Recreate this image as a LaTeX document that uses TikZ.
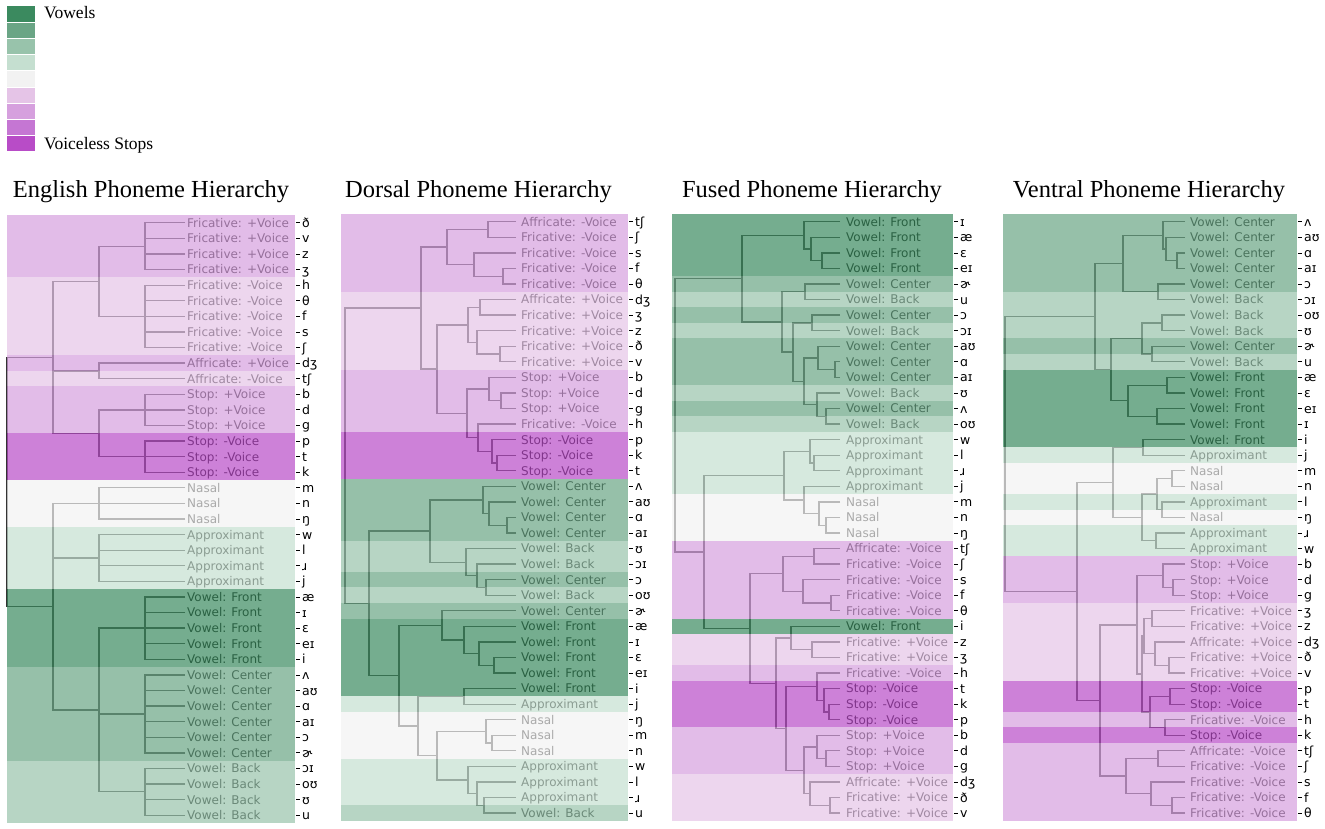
\documentclass[tikz,border=0pt]{standalone}
\usepackage{fontspec}
\setmainfont{Liberation Serif}
\newfontfamily\dvsans{DejaVu Sans}
\usetikzlibrary{calc}

\definecolor{greenA}{HTML}{3B8A5F}
\definecolor{greenB}{HTML}{6AA585}
\definecolor{greenC}{HTML}{98C3AB}
\definecolor{greenD}{HTML}{C5DFD0}
\definecolor{neutral}{HTML}{F2F2F2}
\definecolor{pinkA}{HTML}{E5C4E7}
\definecolor{pinkB}{HTML}{D6A0DE}
\definecolor{pinkC}{HTML}{C576D3}
\definecolor{pinkD}{HTML}{B84CC7}

\begin{document}
\begin{tikzpicture}[x=1pt, y=-1pt]
  \tikzstyle{link} = [draw=black!80, line width=1.3pt]
  \tikzstyle{band} = [fill opacity=0.7]
  \tikzstyle{leaflabel} = [anchor=base west, inner sep=0pt, yshift=-4.4pt, font=\dvsans\fontsize{12}{12}\selectfont]
  \tikzstyle{ticklabel} = [anchor=base west, inner sep=0pt, yshift=-4.5pt, font=\dvsans\fontsize{12.5}{12.5}\selectfont]
  \tikzstyle{tickmark} = [draw=black, line width=0.8pt]
  \tikzstyle{paneltitle} = [anchor=base, inner sep=0pt, font=\fontsize{24.5}{24.5}\selectfont]
  \tikzstyle{swatch} = [draw=white, line width=0.5pt]
  \tikzstyle{legendtext} = [anchor=base west, inner sep=0pt, font=\fontsize{17.5}{17.5}\selectfont]

  \useasboundingbox (0,0) rectangle (1325,828);

  % Legend
  \foreach \c [count=\i from 0] in {greenA, greenB, greenC, greenD, neutral, pinkA, pinkB, pinkC, pinkD}
    \path[swatch, fill=\c] (6, {5.7+16.22*\i}) rectangle ++(29, 16.22);
  \node[legendtext] (leg-top) at (44, 18.5) {Vowels};
  \node[legendtext] (leg-bot) at (44, 149) {Voiceless Stops};

  % ---------------- English panel ----------------
  \node[paneltitle] (E-title) at (151, 197) {English Phoneme Hierarchy};
  \foreach \ipa/\lab [count=\i from 0] in {ð/Fricative: +Voice, v/Fricative: +Voice, z/Fricative: +Voice, ʒ/Fricative: +Voice,
      h/Fricative: -Voice, θ/Fricative: -Voice, f/Fricative: -Voice, s/Fricative: -Voice, ʃ/Fricative: -Voice,
      dʒ/Affricate: +Voice, tʃ/Affricate: -Voice, b/Stop: +Voice, d/Stop: +Voice, g/Stop: +Voice,
      p/Stop: -Voice, t/Stop: -Voice, k/Stop: -Voice, m/Nasal, n/Nasal, ŋ/Nasal,
      w/Approximant, l/Approximant, ɹ/Approximant, j/Approximant,
      æ/Vowel: Front, ɪ/Vowel: Front, ɛ/Vowel: Front, eɪ/Vowel: Front, i/Vowel: Front,
      ʌ/Vowel: Center, aʊ/Vowel: Center, ɑ/Vowel: Center, aɪ/Vowel: Center, ɔ/Vowel: Center, ɚ/Vowel: Center,
      ɔɪ/Vowel: Back, oʊ/Vowel: Back, ʊ/Vowel: Back, u/Vowel: Back}
  {
    \pgfmathsetmacro{\yy}{215+15.59*(\i+0.5)}
    \coordinate (E\i) at (185, \yy);
    \node[leaflabel] (E-l\i) at (187, \yy) {\lab};
    \coordinate (E-k\i) at (296, \yy);
    \draw[tickmark] (E-k\i) -- ++(4, 0);
    \node[ticklabel] (E-t\i) at (302, \yy) {\ipa};
  }

  % English links
  \foreach \n/\x/\a/\b in {Efa/145/E0/E3, Efb/145/E4/E8, Esa/145/E11/E13, Esb/145/E14/E16,
      Evf/145/E24/E28, Evc/145/E29/E34, Evb/145/E35/E38,
      Efr/99/Efa/Efb, Eaf/99/E9/E10, Est/99/Esa/Esb,
      Ena/99/E17/E19, Eap/99/E20/E23, Evw/99/Evf/Evb,
      Eob/53/Efr/Est, Eso/53/Ena/Evw, Ert/7/Eob/Eso}
  {
    \coordinate (\n-m) at ($(\a)!.5!(\b)$);
    \coordinate (\n) at (\x,0 |- \n-m);
    \draw[link] (\a) -| (\n);
    \draw[link] (\b) -| (\n);
  }
  \foreach \c/\p in {E1/Efa, E2/Efa, E5/Efb, E6/Efb, E7/Efb, E12/Esa, E15/Esb,
      E25/Evf, E26/Evf, E27/Evf, E30/Evc, E31/Evc, E32/Evc, E33/Evc, E36/Evb, E37/Evb,
      E18/Ena, E21/Eap, E22/Eap, Evc/Evw, Eaf/Eob, Eap/Eso}
    \draw[link] (\c) -| (\p);

  % English bands
  \foreach \c/\a/\b in {pinkB/0/4, pinkA/4/9, pinkB/9/10, pinkA/10/11, pinkB/11/14, pinkD/14/17,
      neutral/17/20, greenD/20/24, greenA/24/29, greenB/29/35, greenC/35/39}
    \fill[band, fill=\c] (7, {215+15.59*\a}) rectangle (295, {215+15.59*\b});

  % ---------------- Dorsal panel ----------------
  \node[paneltitle] (D-title) at (478.5, 197) {Dorsal Phoneme Hierarchy};
  \foreach \ipa/\lab [count=\i from 0] in {tʃ/Affricate: -Voice, ʃ/Fricative: -Voice, s/Fricative: -Voice, f/Fricative: -Voice, θ/Fricative: -Voice,
      dʒ/Affricate: +Voice, ʒ/Fricative: +Voice, z/Fricative: +Voice, ð/Fricative: +Voice, v/Fricative: +Voice,
      b/Stop: +Voice, d/Stop: +Voice, g/Stop: +Voice, h/Fricative: -Voice, p/Stop: -Voice, k/Stop: -Voice, t/Stop: -Voice,
      ʌ/Vowel: Center, aʊ/Vowel: Center, ɑ/Vowel: Center, aɪ/Vowel: Center, ʊ/Vowel: Back, ɔɪ/Vowel: Back,
      ɔ/Vowel: Center, oʊ/Vowel: Back, ɚ/Vowel: Center,
      æ/Vowel: Front, ɪ/Vowel: Front, ɛ/Vowel: Front, eɪ/Vowel: Front, i/Vowel: Front,
      j/Approximant, ŋ/Nasal, m/Nasal, n/Nasal, w/Approximant, l/Approximant, ɹ/Approximant, u/Vowel: Back}
  {
    \pgfmathsetmacro{\yy}{214+15.56*(\i+0.5)}
    \coordinate (D\i) at (516, \yy);
    \node[leaflabel] (D-l\i) at (521, \yy) {\lab};
    \coordinate (D-k\i) at (629, \yy);
    \draw[tickmark] (D-k\i) -- ++(4, 0);
    \node[ticklabel] (D-t\i) at (635, \yy) {\ipa};
  }

  % Dorsal links
  \foreach \n/\x/\a/\b in {Da/488/D0/D1, Db/503/D3/D4, Dc/474/D2/Db, Dd/447/Da/Dc,
      De/480/D5/D6, Df/500/D8/D9, Dg/477/D7/Df, Dh/468/De/Dg,
      Di/501/D11/D12, Dj/489/D10/Di, Dk/497/D15/D16, Dl/492/D14/Dk, Dm/478/D13/Dl,
      Dn/467/Dj/Dm, Do/437/Dh/Dn, Dp/421/Dd/Do,
      Dq/507/D19/D20, Dr/489/D18/Dq, Ds/483/D17/Dr,
      Dt/486/D23/D24, Du/477/D22/Dt, Dv/466/D21/Du, Dw/430/Ds/Dv,
      Dx/494/D28/D29, Dy/479/D27/Dx, Dz/464/D26/Dy, DA/442/D25/Dz,
      DB/464/D30/D31, DC/492/D33/D34, DD/486/D32/DC,
      DE/484/D37/D38, DF/477/D36/DE, DG/468/D35/DF, DH/437/DD/DG,
      DI/418/DB/DH, DJ/399/DA/DI, DK/369/Dw/DJ, Drt/345/Dp/DK}
  {
    \coordinate (\n-m) at ($(\a)!.5!(\b)$);
    \coordinate (\n) at (\x,0 |- \n-m);
    \draw[link] (\a) -| (\n);
    \draw[link] (\b) -| (\n);
  }

  % Dorsal bands
  \foreach \c/\a/\b in {pinkB/0/5, pinkA/5/10, pinkB/10/14, pinkD/14/17, greenB/17/21, greenC/21/23,
      greenB/23/24, greenC/24/25, greenB/25/26, greenA/26/31, greenD/31/32, neutral/32/35,
      greenD/35/38, greenC/38/39}
    \fill[band, fill=\c] (341, {214+15.56*\a}) rectangle (628, {214+15.56*\b});

  % ---------------- Fused panel ----------------
  \node[paneltitle] (F-title) at (812, 197) {Fused Phoneme Hierarchy};
  \foreach \ipa/\lab [count=\i from 0] in {ɪ/Vowel: Front, æ/Vowel: Front, ɛ/Vowel: Front, eɪ/Vowel: Front,
      ɚ/Vowel: Center, u/Vowel: Back, ɔ/Vowel: Center, ɔɪ/Vowel: Back, aʊ/Vowel: Center, ɑ/Vowel: Center,
      aɪ/Vowel: Center, ʊ/Vowel: Back, ʌ/Vowel: Center, oʊ/Vowel: Back,
      w/Approximant, l/Approximant, ɹ/Approximant, j/Approximant, m/Nasal, n/Nasal, ŋ/Nasal,
      tʃ/Affricate: -Voice, ʃ/Fricative: -Voice, s/Fricative: -Voice, f/Fricative: -Voice, θ/Fricative: -Voice,
      i/Vowel: Front, z/Fricative: +Voice, ʒ/Fricative: +Voice, h/Fricative: -Voice,
      t/Stop: -Voice, k/Stop: -Voice, p/Stop: -Voice, b/Stop: +Voice, d/Stop: +Voice, g/Stop: +Voice,
      dʒ/Affricate: +Voice, ð/Fricative: +Voice, v/Fricative: +Voice}
  {
    \pgfmathsetmacro{\yy}{214+15.56*(\i+0.5)}
    \coordinate (F\i) at (840, \yy);
    \node[leaflabel] (F-l\i) at (846, \yy) {\lab};
    \coordinate (F-k\i) at (954, \yy);
    \draw[tickmark] (F-k\i) -- ++(4, 0);
    \node[ticklabel] (F-t\i) at (960, \yy) {\ipa};
  }

  % Fused links
  \foreach \n/\x/\a/\b in {Fa/822/F2/F3, Fb/811/F1/Fa, Fc/804/F0/Fb,
      Fd/805/F4/F5, Fe/812/F6/F7, Ff/835/F9/F10, Fg/818/F8/Ff,
      Fh/826/F12/F13, Fi/817/F11/Fh, Fj/804/Fg/Fi, Fk/793/Fe/Fj, Fl/782/Fd/Fk, Fm/742/Fc/Fl,
      Fn/814/F15/F16, Fo/810/F14/Fn, Fp/826/F19/F20, Fq/819/F18/Fp, Fr/804/F17/Fq, Fs/784/Fo/Fr,
      Ft/814/F21/F22, Fu/831/F24/F25, Fv/803/F23/Fu, Fw/783/Ft/Fv,
      Fx/812/F27/F28, Fy/791/F26/Fx, Fz/829/F31/F32, FA/824/F30/Fz, FB/817/F29/FA,
      FC/826/F34/F35, FD/817/F33/FC, FE/830/F37/F38, FF/810/F36/FE, FG/804/FD/FF,
      FH/786/FB/FG, FI/776/Fy/FH, FJ/750/Fw/FI, FK/704/Fs/FJ, Frt/675/Fm/FK}
  {
    \coordinate (\n-m) at ($(\a)!.5!(\b)$);
    \coordinate (\n) at (\x,0 |- \n-m);
    \draw[link] (\a) -| (\n);
    \draw[link] (\b) -| (\n);
  }

  % Fused bands
  \foreach \c/\a/\b in {greenA/0/4, greenB/4/5, greenC/5/6, greenB/6/7, greenC/7/8, greenB/8/11,
      greenC/11/12, greenB/12/13, greenC/13/14, greenD/14/18, neutral/18/21, pinkB/21/26,
      greenA/26/27, pinkA/27/29, pinkB/29/30, pinkD/30/33, pinkB/33/36, pinkA/36/39}
    \fill[band, fill=\c] (672, {214+15.56*\a}) rectangle (953, {214+15.56*\b});

  % ---------------- Ventral panel ----------------
  \node[paneltitle] (V-title) at (1149, 197) {Ventral Phoneme Hierarchy};
  \foreach \ipa/\lab [count=\i from 0] in {ʌ/Vowel: Center, aʊ/Vowel: Center, ɑ/Vowel: Center, aɪ/Vowel: Center,
      ɔ/Vowel: Center, ɔɪ/Vowel: Back, oʊ/Vowel: Back, ʊ/Vowel: Back, ɚ/Vowel: Center, u/Vowel: Back,
      æ/Vowel: Front, ɛ/Vowel: Front, eɪ/Vowel: Front, ɪ/Vowel: Front, i/Vowel: Front,
      j/Approximant, m/Nasal, n/Nasal, l/Approximant, ŋ/Nasal, ɹ/Approximant, w/Approximant,
      b/Stop: +Voice, d/Stop: +Voice, g/Stop: +Voice,
      ʒ/Fricative: +Voice, z/Fricative: +Voice, dʒ/Affricate: +Voice, ð/Fricative: +Voice, v/Fricative: +Voice,
      p/Stop: -Voice, t/Stop: -Voice, h/Fricative: -Voice, k/Stop: -Voice,
      tʃ/Affricate: -Voice, ʃ/Fricative: -Voice, s/Fricative: -Voice, f/Fricative: -Voice, θ/Fricative: -Voice}
  {
    \pgfmathsetmacro{\yy}{214+15.56*(\i+0.5)}
    \coordinate (V\i) at (1185, \yy);
    \node[leaflabel] (V-l\i) at (1190, \yy) {\lab};
    \coordinate (V-k\i) at (1298, \yy);
    \draw[tickmark] (V-k\i) -- ++(4, 0);
    \node[ticklabel] (V-t\i) at (1304, \yy) {\ipa};
  }

  % Ventral links
  \foreach \n/\x/\a/\b in {Va/1177/V2/V3, Vb/1166/V1/Va, Vc/1163/V0/Vb, Vd/1158/V4/V5, Ve/1123/Vc/Vd,
      Vf/1162/V6/V7, Vg/1152/V8/V9, Vh/1142/Vf/Vg,
      Vi/1167/V10/V11, Vj/1157/V12/V13, Vk/1128/Vi/Vj, Vl/1111/Vh/Vk, Vm/1095/Ve/Vl,
      Vn/1143/V14/V15, Vo/1172/V16/V17, Vp/1162/V18/V19, Vq/1157/Vo/Vp,
      Vr/1156/V20/V21, Vs/1142/Vq/Vr, Vt/1113/Vn/Vs,
      Vu/1173/V23/V24, Vv/1163/V22/Vu, Vw/1152/V25/V26, Vx/1169/V28/V29, Vy/1155/V27/Vx,
      Vz/1144/Vw/Vy, VA/1170/V30/V31, VB/1165/V32/V33, VC/1150/VA/VB, VD/1142/Vz/VC,
      VE/1137/Vv/VD, VF/1158/V34/V35, VG/1172/V37/V38, VH/1151/V36/VG, VI/1126/VF/VH,
      VJ/1100/VE/VI, VK/1077/Vt/VJ, Vrt/1005/Vm/VK}
  {
    \coordinate (\n-m) at ($(\a)!.5!(\b)$);
    \coordinate (\n) at (\x,0 |- \n-m);
    \draw[link] (\a) -| (\n);
    \draw[link] (\b) -| (\n);
  }

  % Ventral bands
  \foreach \c/\a/\b in {greenB/0/5, greenC/5/8, greenB/8/9, greenC/9/10, greenA/10/15, greenD/15/16,
      neutral/16/18, greenD/18/19, neutral/19/20, greenD/20/22, pinkB/22/25, pinkA/25/30,
      pinkD/30/32, pinkB/32/33, pinkD/33/34, pinkB/34/39}
    \fill[band, fill=\c] (1003, {214+15.56*\a}) rectangle (1297, {214+15.56*\b});

\end{tikzpicture}
\end{document}
